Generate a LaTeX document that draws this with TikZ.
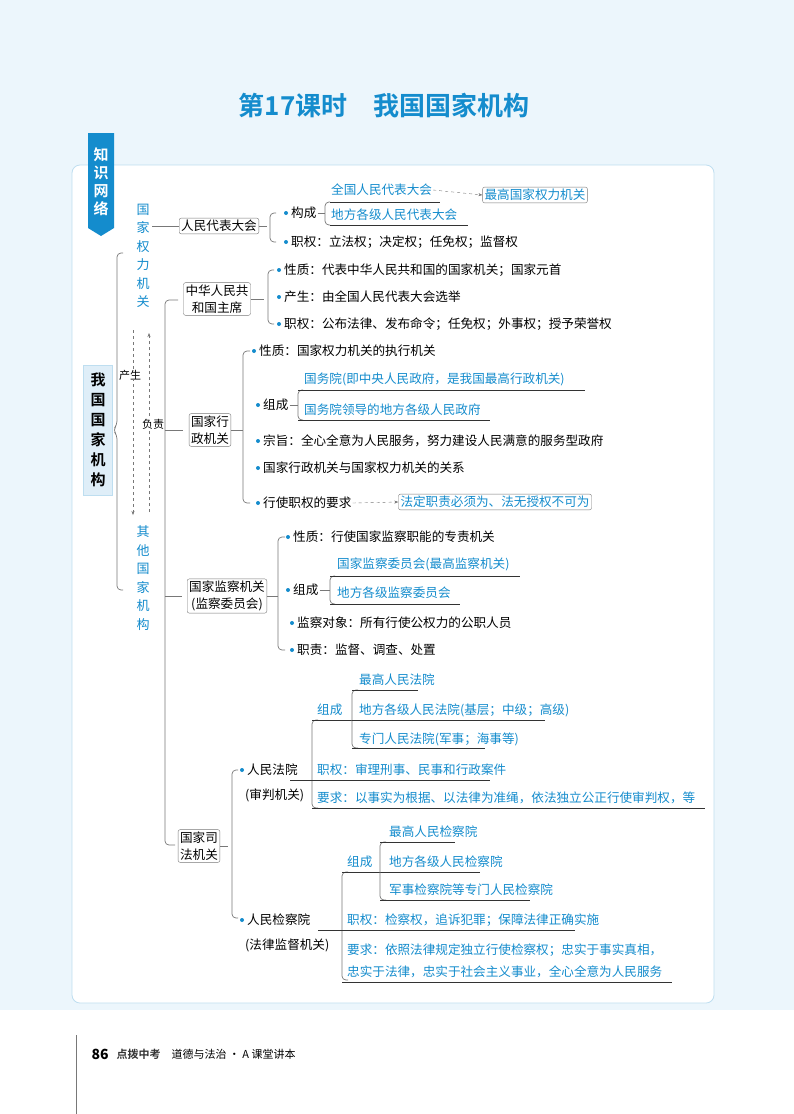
\documentclass[tikz,border=0pt]{standalone}
\usepackage{fontspec}
\setmainfont{Noto Sans CJK SC}
\newfontfamily\cjkb{Noto Sans CJK SC Bold}
\usetikzlibrary{arrows.meta}
\definecolor{tb}{RGB}{20,140,205}
\definecolor{bg}{RGB}{236,246,252}
\definecolor{bd}{RGB}{190,222,240}
\definecolor{gl}{RGB}{120,120,120}
\tikzset{
 t/.style={anchor=west,inner sep=1pt,font=\fontsize{12.6}{14}\selectfont},
 bt/.style={t,text=tb},
 bx/.style={draw=gl,rounded corners=2pt,fill=white,align=center,inner sep=2pt,font=\fontsize{12.6}{17}\selectfont},
 ln/.style={draw=gl,line width=0.7pt,rounded corners=4pt},
 ul/.style={draw=black!80,line width=0.6pt},
 dt/.style={fill=tb,circle,inner sep=0pt,minimum size=4pt},
 vt/.style={text=tb,align=center,font=\fontsize{13}{18.5}\selectfont,inner sep=0pt},
}
\newcommand{\itm}[3]{\node[dt] at (#1-4,#2) {}; \node[t] (#3) at (#1,#2)}
\begin{document}
\begin{tikzpicture}[x=1pt,y=-1pt]
\useasboundingbox (0,0) rectangle (794,1114);
\fill[bg] (0,0) rectangle (794,1010);
\fill[white,draw=bd,line width=0.8pt,rounded corners=8pt] (72,165) rectangle (714,1003);
% title
\node[text=tb,font=\cjkb\fontsize{26}{30}\selectfont] (title) at (384,106) {第17课时\quad 我国国家机构};
% tab
\fill[tb] (88,133) -- (114,133) -- (114,228) -- (101,236) -- (88,228) -- cycle;
\node[text=white,font=\cjkb\fontsize{15}{18}\selectfont,align=center] (tab) at (101,182) {知\\识\\网\\络};
% root
\node[draw=bd,fill=bd!50,minimum width=29pt,minimum height=130pt,inner sep=0pt,font=\cjkb\fontsize{15}{20}\selectfont,align=center] (root) at (98,430) {我\\国\\国\\家\\机\\构};
\draw[ln] (123,253) -- (117,253) -- (117,425) -- (113,430) -- (117,435) -- (117,590) -- (123,590);
\node[vt] (qlj) at (143,256) {国\\家\\权\\力\\机\\关};
\node[vt] (qt) at (143,578) {其\\他\\国\\家\\机\\构};
\draw[dashed,gl,-{Stealth[length=4pt]}] (133,330) -- (133,515);
\draw[dashed,gl,-{Stealth[length=4pt]}] (149,512) -- (149,333);
\node[font=\fontsize{11}{12}\selectfont,fill=white,inner sep=0pt] at (130,375) {产生};
\node[font=\fontsize{11}{12}\selectfont,fill=white,inner sep=0pt] at (153,424) {负责};
% NPC
\node[bx] (npc) at (219,226) {人民代表大会};
\draw[ln] (152,226) -- (npc.west);
\draw[ln] (npc.east) -- (267,226);
\draw[ln] (276,213) -- (270,213) -- (270,242) -- (276,242);
\itm{290}{213}{gc} {构成};
\itm{290}{242}{zq1} {职权：立法权；决定权；任免权；监督权};
\draw[ln] (gc.east) -- (325,213);
\draw[ln] (330,202) -- (325,202) -- (325,225) -- (330,225);
\node[bt] (n1) at (330,190) {全国人民代表大会};
\node[bt] (n2) at (330,215) {地方各级人民代表大会};
\draw[ul] (330,202) -- (440,202); \draw[ul] (330,225) -- (468,225);
\node[bx,text=tb] (zg) at (535,195) {最高国家权力机关};
\draw[dashed,gl,-{Stealth[length=4pt]}] (n1.east) -- (zg.west);
% vertical trunk for other organs
\draw[ln] (178,300) -- (165,300) -- (165,845) -- (175,845);
% President
\node[bx] (pres) at (217,299) {中华人民共\\和国主席};
\draw[ln] (pres.east) -- (264,299);
\draw[ln] (274,270) -- (268,270) -- (268,324) -- (274,324);
\itm{283}{270}{p1} {性质：代表中华人民共和国的国家机关；国家元首};
\itm{283}{297}{p2} {产生：由全国人民代表大会选举};
\itm{283}{324}{p3} {职权：公布法律、发布命令；任免权；外事权；授予荣誉权};
% Executive
\draw[ln] (165,430) -- (183,430);
\node[bx] (xz) at (210,430) {国家行\\政机关};
\draw[ln] (xz.east) -- (243,430);
\draw[ln] (250,351) -- (243,351) -- (243,503) -- (250,503);
\itm{258}{351}{x1} {性质：国家权力机关的执行机关};
\itm{262}{405}{x2} {组成};
\itm{262}{441}{x3} {宗旨：全心全意为人民服务，努力建设人民满意的服务型政府};
\itm{262}{468}{x4} {国家行政机关与国家权力机关的关系};
\itm{262}{503}{x5} {行使职权的要求};
\draw[ln] (x2.east) -- (298,405);
\draw[ln] (303,390) -- (298,390) -- (298,420) -- (303,420);
\node[bt] at (303,379) {国务院(即中央人民政府，是我国最高行政机关)};
\node[bt] at (303,410) {国务院领导的地方各级人民政府};
\draw[ul] (298,390) -- (585,390); \draw[ul] (298,420) -- (490,420);
\node[bx,text=tb] (fd) at (495,502) {法定职责必须为、法无授权不可为};
\draw[dashed,gl,-{Stealth[length=4pt]}] (x5.east) -- (fd.west);
% Supervision
\draw[ln] (165,596) -- (182,596);
\node[bx] (jc) at (227,596) {国家监察机关\\(监察委员会)};
\draw[ln] (jc.east) -- (278,596);
\draw[ln] (285,537) -- (278,537) -- (278,650) -- (285,650);
\itm{292}{537}{j1} {性质：行使国家监察职能的专责机关};
\itm{292}{590}{j2} {组成};
\itm{296}{623}{j3} {监察对象：所有行使公权力的公职人员};
\itm{296}{650}{j4} {职责：监督、调查、处置};
\draw[ln] (j2.east) -- (330,590);
\draw[ln] (335,576) -- (330,576) -- (330,604) -- (335,604);
\node[bt] at (336,564) {国家监察委员会(最高监察机关)};
\node[bt] at (336,593) {地方各级监察委员会};
\draw[ul] (330,576) -- (520,576); \draw[ul] (330,604) -- (460,604);
% Judicial
\node[bx] (sf) at (199,846) {国家司\\法机关};
\draw[ln] (sf.east) -- (228,846);
\draw[ln] (238,770) -- (232,770) -- (232,918) -- (238,918);
\itm{246}{770}{c1} {人民法院};
\node[t] at (244,795) {(审判机关)};
\itm{246}{920}{r1} {人民检察院};
\node[t] at (244,945) {(法律监督机关)};
% court
\draw[ln] (318,720) -- (312,720) -- (312,808) -- (318,808);
\draw[ul] (312,720) -- (360,720);
\node[bt] at (316,710) {组成};
\draw[ln] (358,690) -- (352,690) -- (352,748) -- (358,748);
\node[bt] at (358,680) {最高人民法院};
\node[bt] at (358,710) {地方各级人民法院(基层；中级；高级)};
\node[bt] at (358,739) {专门人民法院(军事；海事等)};
\draw[ul] (352,690) -- (418,690); \draw[ul] (352,720) -- (545,720); \draw[ul] (352,748) -- (485,748);
\draw[ul] (290,780) -- (490,780);
\node[bt] at (316,770) {职权：审理刑事、民事和行政案件};
\node[bt] at (316,798) {要求：以事实为根据、以法律为准绳，依法独立公正行使审判权，等};
\draw[ul] (312,808) -- (705,808);
% procuratorate
\draw[ln] (348,872) -- (342,872) -- (342,980) -- (348,980);
\draw[ul] (342,872) -- (480,872);
\node[bt] at (346,862) {组成};
\draw[ln] (386,842) -- (380,842) -- (380,900) -- (386,900);
\node[bt] at (388,832) {最高人民检察院};
\node[bt] at (388,862) {地方各级人民检察院};
\node[bt] at (388,890) {军事检察院等专门人民检察院};
\draw[ul] (380,842) -- (455,842); \draw[ul] (380,900) -- (530,900);
\draw[ul] (318,930) -- (575,930);
\node[bt] at (346,920) {职权：检察权，追诉犯罪；保障法律正确实施};
\node[bt] at (346,950) {要求：依照法律规定独立行使检察权；忠实于事实真相，};
\node[bt] at (346,972) {忠实于法律，忠实于社会主义事业，全心全意为人民服务};
\draw[ul] (342,982) -- (672,982);
% footer
\draw[gl] (76,1035) -- (76,1114);
\node[anchor=west,font=\bfseries\fontsize{14}{16}\selectfont] (pg) at (88,1054) {86};
\node[anchor=west,font=\cjkb\fontsize{11}{13}\selectfont,text=black!80] (brand) at (113,1054) {点拨中考};
\node[anchor=west,font=\fontsize{11}{13}\selectfont] (sub) at (168,1054) {道德与法治 · A 课堂讲本};
\end{tikzpicture}
\end{document}
